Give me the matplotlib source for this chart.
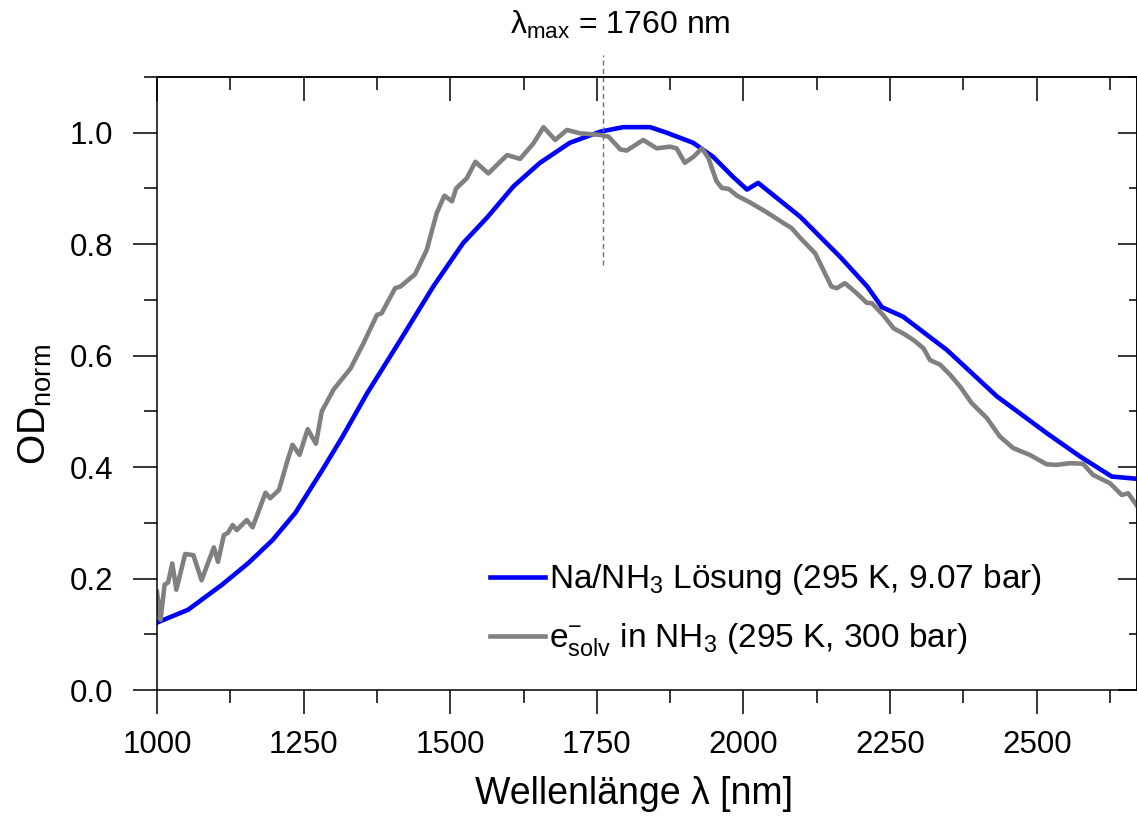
import numpy as np
import matplotlib as mpl
mpl.use("agg")
import matplotlib.pyplot as plt
from matplotlib.ticker import MultipleLocator

plt.rcParams['font.family'] = ['Liberation Sans', 'DejaVu Sans']
plt.rcParams['mathtext.fontset'] = 'custom'
plt.rcParams['mathtext.rm'] = 'Liberation Sans'
plt.rcParams['mathtext.it'] = 'Liberation Sans:italic'
plt.rcParams['mathtext.bf'] = 'Liberation Sans:bold'

### data
# Na/NH3 solution (295 K, 9.07 bar)
wl_na = [1000, 1053, 1111, 1156, 1197, 1236, 1282, 1316, 1358, 1415, 1471, 1522,
         1563, 1608, 1653, 1704, 1756, 1795, 1841, 1869, 1914, 1948, 1982, 2006,
         2025, 2097, 2165, 2211, 2236, 2272, 2347, 2432, 2517, 2574, 2628, 2671]
od_na = [0.121, 0.144, 0.189, 0.228, 0.269, 0.318, 0.395, 0.454, 0.532, 0.628, 0.724, 0.802,
         0.848, 0.904, 0.946, 0.982, 1.002, 1.010, 1.010, 1.000, 0.982, 0.957, 0.921, 0.898,
         0.910, 0.849, 0.777, 0.724, 0.687, 0.670, 0.610, 0.527, 0.461, 0.419, 0.383, 0.379]

# solvated electron in NH3 (295 K, 300 bar)
wl_e = [1000, 1006, 1013, 1019, 1026, 1033, 1048, 1062, 1076, 1097, 1104, 1114,
        1121, 1129, 1136, 1153, 1163, 1185, 1193, 1208, 1222, 1231, 1243, 1257,
        1271, 1281, 1301, 1330, 1352, 1375, 1383, 1406, 1415, 1440, 1460, 1477,
        1490, 1503, 1510, 1528, 1543, 1551, 1565, 1597, 1619, 1642, 1659, 1679,
        1699, 1721, 1756, 1770, 1790, 1801, 1829, 1852, 1875, 1886, 1900, 1915,
        1929, 1940, 1954, 1963, 1975, 1989, 2011, 2040, 2068, 2082, 2097, 2122,
        2136, 2150, 2159, 2173, 2193, 2210, 2219, 2238, 2256, 2272, 2290, 2307,
        2318, 2335, 2352, 2369, 2389, 2415, 2437, 2460, 2488, 2517, 2534, 2557,
        2579, 2596, 2625, 2645, 2656, 2670]
od_e = [0.176, 0.126, 0.189, 0.193, 0.227, 0.180, 0.244, 0.242, 0.197, 0.256, 0.230, 0.278,
        0.282, 0.296, 0.287, 0.305, 0.292, 0.354, 0.344, 0.359, 0.410, 0.440, 0.422, 0.468,
        0.442, 0.500, 0.539, 0.577, 0.622, 0.673, 0.676, 0.721, 0.724, 0.746, 0.790, 0.856,
        0.887, 0.877, 0.900, 0.918, 0.948, 0.940, 0.927, 0.960, 0.953, 0.981, 1.010, 0.987,
        1.005, 0.999, 0.996, 0.993, 0.970, 0.968, 0.987, 0.972, 0.975, 0.972, 0.946, 0.957,
        0.972, 0.955, 0.913, 0.901, 0.899, 0.887, 0.875, 0.857, 0.838, 0.829, 0.811, 0.784,
        0.754, 0.724, 0.721, 0.730, 0.712, 0.695, 0.694, 0.673, 0.649, 0.640, 0.628, 0.613,
        0.592, 0.584, 0.566, 0.545, 0.515, 0.488, 0.455, 0.434, 0.422, 0.405, 0.404, 0.407,
        0.406, 0.386, 0.371, 0.350, 0.353, 0.332]

lambda_max = 1760

label_na = r'Na/NH$_\mathregular{3}$ Lösung (295 K, 9.07 bar)'
label_e = r'e$^\mathregular{-}_\mathregular{solv}$ in NH$_\mathregular{3}$ (295 K, 300 bar)'

fig = plt.figure(figsize=(11.37, 8.16), dpi=100)
ax = fig.add_axes([157 / 1137, 126 / 816, 980 / 1137, 613 / 816])

ax.plot(wl_na, od_na, color='#0000ff', lw=3.3, label=label_na, solid_joinstyle='round')
ax.plot(wl_e, od_e, color='#808080', lw=3.3, label=label_e, solid_joinstyle='round')

# marker for the maximum
ax.axvline(lambda_max, ymin=0.693, ymax=1.036, color='#707070', lw=1.0,
           ls=(0, (3.5, 2.5)), clip_on=False)
fig.text(620 / 1137, 1 - 34 / 816, r'$\mathregular{λ_{max}}$ = %d nm' % lambda_max,
         fontsize=23, ha='center', va='baseline')

ax.set_xlim(1000, 2671)
ax.set_ylim(0, 1.1)

ax.xaxis.set_major_locator(MultipleLocator(250))
ax.xaxis.set_minor_locator(MultipleLocator(125))
ax.yaxis.set_major_locator(MultipleLocator(0.2))
ax.yaxis.set_minor_locator(MultipleLocator(0.1))
ax.yaxis.set_major_formatter(mpl.ticker.FormatStrFormatter('%.1f'))

ax.tick_params(which='both', direction='out', width=1.1, labelsize=22.5)
ax.tick_params(axis='x', pad=11)
ax.tick_params(axis='y', pad=14)
ax.tick_params(which='major', length=17.5)
ax.tick_params(which='minor', length=9.5)

# mirrored axes with inward ticks
secx = ax.secondary_xaxis('top')
secx.xaxis.set_major_locator(MultipleLocator(250))
secx.xaxis.set_minor_locator(MultipleLocator(125))
secx.tick_params(which='both', direction='in', width=1.1, labeltop=False)
secx.tick_params(which='major', length=17.5)
secx.tick_params(which='minor', length=9.5)
secy = ax.secondary_yaxis('right')
secy.yaxis.set_major_locator(MultipleLocator(0.2))
secy.yaxis.set_minor_locator(MultipleLocator(0.1))
secy.tick_params(which='both', direction='in', width=1.1, labelright=False)
secy.tick_params(which='major', length=14)
secy.tick_params(which='minor', length=6)

for sp in list(ax.spines.values()) + [secx.spines['top'], secy.spines['right']]:
    sp.set_linewidth(1.1)

ax.set_xlabel('Wellenlänge λ [nm]', fontsize=27)
ax.xaxis.set_label_coords(0.487, -0.14)
ax.set_ylabel(r'OD$_\mathregular{norm}$', fontsize=28)
ax.yaxis.set_label_coords(-0.105, 0.465)

ax.legend(loc='upper left', bbox_to_anchor=(0.340, 0.208), frameon=False,
          fontsize=24, handlelength=1.65, handletextpad=0.12, labelspacing=0.72,
          borderpad=0, borderaxespad=0)

plt.savefig('out.png', dpi=100)
plt.close()
